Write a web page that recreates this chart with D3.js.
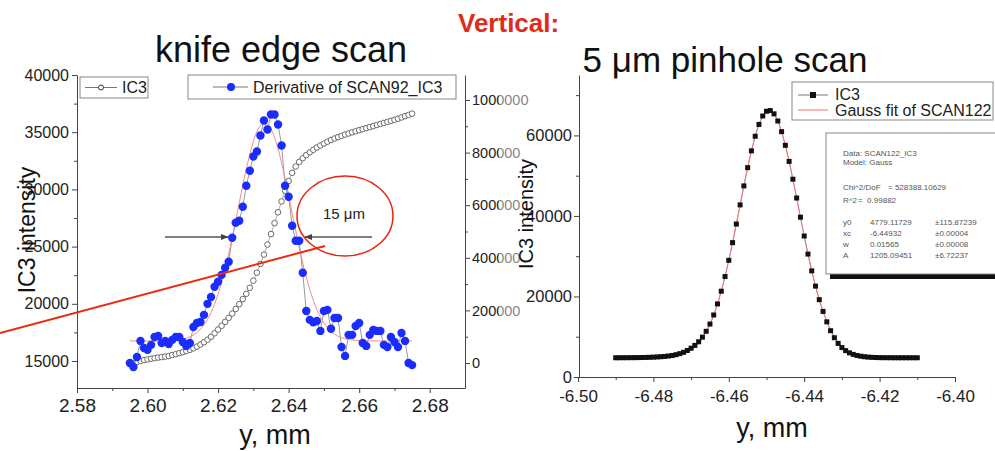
<!DOCTYPE html>
<html>
<head>
<meta charset="utf-8">
<script src="https://cdn.jsdelivr.net/npm/d3@7"></script>
<style>
  body { margin: 0; background: #fff; }
  svg { display: block; font-family: 'Liberation Sans', Arial, sans-serif; }
</style>
</head>
<body>
<svg id="chart" width="995" height="451"></svg>
<script>
/* global d3 */
// ---- knife edge scan (left panel) ----
const scanStart = 2.595
const scanStep = 0.001
const knifeIC3 = [14720, 14820, 14920, 15010, 15080, 15140, 15200, 15250, 15300, 15340,
  15380, 15440, 15520, 15600, 15690, 15780, 15870, 15980, 16110, 16260,
  16440, 16640, 16860, 17120, 17420, 17750, 18080, 18420, 18770, 19150,
  19550, 19970, 20410, 20870, 21400, 22020, 22720, 23480, 24300, 25180,
  26100, 27050, 28000, 28950, 29880, 30730, 31450, 32000, 32400, 32730,
  33000, 33240, 33460, 33660, 33840, 34010, 34170, 34320, 34450, 34570,
  34680, 34790, 34890, 34990, 35090, 35180, 35270, 35360, 35450, 35540,
  35630, 35720, 35810, 35900, 35990, 36080, 36180, 36290, 36400, 36510, 36620]
const knifeDeriv = [0, -15000, 23000, 84000, 57000, 50000, 69000, 99000, 103000, 76000,
  84000, 72000, 88000, 99000, 99000, 80000, 65000, 76000, 137000, 152000,
  156000, 183000, 225000, 251000, 290000, 309000, 335000, 362000, 385000, 476000,
  533000, 541000, 594000, 674000, 731000, 785000, 804000, 865000, 922000, 888000,
  945000, 945000, 907000, 827000, 674000, 632000, 522000, 465000, 465000, 343000,
  198000, 164000, 155000, 160000, 122000, 198000, 202000, 130000, 171000, 171000,
  61000, 27000, 107000, 107000, 141000, 152000, 76000, 65000, 107000, 126000,
  122000, 122000, 69000, 61000, 99000, 80000, 61000, 114000, 84000, 0, -8000]
const knifeFit = [84000, 84000, 84000, 84000, 84000, 84000, 84000, 84100, 84200, 84400,
  84700, 85200, 85900, 87000, 88700, 91100, 94600, 99600, 106500, 115900,
  128400, 144700, 165600, 191600, 223600, 261900, 306600, 357800, 414800, 476800,
  542200, 609000, 674800, 737600, 794100, 842200, 879200, 903500, 913700, 909300,
  890600, 858400, 814500, 761000, 700500, 635500, 568600, 502500, 439100, 380000,
  326400, 278900, 238000, 203700, 175300, 152500, 134400, 120400, 109900, 102100,
  96400, 92400, 89500, 87600, 86300, 85400, 84800, 84500, 84300, 84100,
  84000, 84000, 84000, 84000, 84000, 84000, 84000, 84000, 84000, 84000, 84000]
const knifeYTicks = [15000, 20000, 25000, 30000, 35000, 40000]
const knifeYMinor = [17500, 22500, 27500, 32500, 37500]
const knifeRTicks = [0, 200000, 400000, 600000, 800000, 1000000]
const knifeRMinor = [100000, 300000, 500000, 700000, 900000]
const knifeXTicks = [2.58, 2.60, 2.62, 2.64, 2.66, 2.68]
const knifeXMinor = [2.59, 2.61, 2.63, 2.65, 2.67]

// ---- 5 um pinhole scan (right panel) ----
const pinStart = -6.490
const pinStep = 0.001
const pinIC3 = [4780, 4780, 4790, 4790, 4800, 4810, 4820, 4840, 4860, 4890,
  4930, 4980, 5040, 5110, 5210, 5350, 5540, 5800, 6130, 6580,
  7150, 7850, 8750, 9900, 11350, 13150, 15400, 18150, 21300, 24950,
  28980, 33370, 37990, 42740, 47460, 51990, 56160, 59790, 62720, 64820,
  65990, 66170, 65350, 63580, 60930, 57540, 53540, 49120, 44450, 39690,
  35010, 30530, 26360, 22570, 19210, 16290, 13700, 11500, 9750, 8350,
  7300, 6550, 6000, 5620, 5350, 5160, 5030, 4940, 4880, 4840,
  4810, 4800, 4790, 4790, 4780, 4780, 4780, 4780, 4780, 4780, 4780]
const pinFit = [4779, 4779, 4779, 4779, 4779, 4779, 4779, 4784, 4789, 4796,
  4807, 4825, 4853, 4897, 4963, 5061, 5204, 5410, 5701, 6102,
  6649, 7379, 8337, 9562, 11113, 13030, 15353, 18112, 21306, 24950,
  28980, 33367, 37987, 42737, 47455, 51990, 56155, 59786, 62717, 64818,
  65986, 66167, 65352, 63577, 60929, 57537, 53544, 49120, 44445, 39689,
  35008, 30529, 26363, 22566, 19211, 16287, 13817, 11759, 10081, 8744,
  7693, 6889, 6280, 5830, 5503, 5270, 5106, 4994, 4918, 4867,
  4834, 4813, 4799, 4791, 4786, 4783, 4781, 4780, 4780, 4779, 4779]
const pinYTicks = [0, 20000, 40000, 60000]
const pinYMinor = [10000, 30000, 50000, 70000]
const pinXTicks = [-6.50, -6.48, -6.46, -6.44, -6.42, -6.40]
const pinXMinor = [-6.49, -6.47, -6.45, -6.43, -6.41]
const fitHeader = ['Data: SCAN122_IC3', 'Model: Gauss']
const fitStats = [['Chi^2/DoF', '= 528388.10629'], ['R^2', '=  0.99882']]
const fitParams = [['y0', '4779.11729', '±115.87239'], ['xc', '-6.44932', '±0.00004'],
  ['w', '0.01565', '±0.00008'], ['A', '1205.09451', '±6.72237']]

const font = 'Liberation Sans, Arial, sans-serif'
const svg = d3.select('#chart')

let axisG = function (axis, tx, ty, size) {
  let g = svg.append('g')
    .attr('transform', `translate(${tx},${ty})`)
    .call(axis)
    .attr('font-size', size)
    .attr('font-family', font)
  g.selectAll('line').attr('stroke', '#444')
  g.select('.domain').attr('stroke', '#444')
  g.selectAll('text').attr('fill', '#222')
  return g
}
let minorG = function (axis, tx, ty) {
  let g = svg.append('g')
    .attr('transform', `translate(${tx},${ty})`)
    .call(axis.tickFormat('').tickSizeOuter(0))
  g.select('.domain').remove()
  g.selectAll('line').attr('stroke', '#444')
}

svg.append('defs').append('marker')
  .attr('id', 'arrow')
  .attr('viewBox', '0 0 10 10')
  .attr('refX', 9).attr('refY', 5)
  .attr('markerWidth', 6).attr('markerHeight', 6)
  .attr('orient', 'auto-start-reverse')
  .append('path')
  .attr('d', 'M0,1L10,5L0,9z')
  .attr('fill', '#444')

svg.append('text')
  .attr('x', 458).attr('y', 32)
  .attr('font-size', 26).attr('font-weight', 'bold')
  .attr('fill', '#dd2c1a')
  .text('Vertical:')
svg.append('text')
  .attr('x', 468).attr('y', 471)
  .attr('font-size', 26).attr('font-weight', 'bold')
  .attr('fill', '#dd2c1a')
  .text('Horizontal:')

// ---------- left panel ----------
const kx = d3.scaleLinear().domain([2.58, 2.69]).range([77, 465])
const ky = d3.scaleLinear().domain([12640, 40000]).range([388, 75])
const kr = d3.scaleLinear().domain([-95000, 1095000]).range([388, 75])
const scanX = knifeIC3.map((d, i) => scanStart + i * scanStep)

svg.append('text')
  .attr('x', 281).attr('y', 62)
  .attr('text-anchor', 'middle')
  .attr('font-size', 36).attr('fill', '#111')
  .text('knife edge scan')

axisG(d3.axisLeft(ky).tickValues(knifeYTicks).tickSize(5).tickPadding(3).tickSizeOuter(0)
  .tickFormat(d => String(d)), 77, 0, 16)
minorG(d3.axisLeft(ky).tickValues(knifeYMinor).tickSize(3), 77, 0)
axisG(d3.axisRight(kr).tickValues(knifeRTicks).tickSize(5).tickPadding(2).tickSizeOuter(0)
  .tickFormat(d => String(d)), 465, 0, 14.5)
minorG(d3.axisRight(kr).tickValues(knifeRMinor).tickSize(3), 465, 0)
axisG(d3.axisBottom(kx).tickValues(knifeXTicks).tickSize(5).tickPadding(6).tickSizeOuter(0)
  .tickFormat(d => d.toFixed(2)), 0, 388, 19)
minorG(d3.axisBottom(kx).tickValues(knifeXMinor).tickSize(3), 0, 388)

svg.append('text')
  .attr('transform', 'translate(35,230) rotate(-90)')
  .attr('text-anchor', 'middle')
  .attr('font-size', 23).attr('fill', '#111')
  .text('IC3 intensity')
svg.append('text')
  .attr('x', 275).attr('y', 444)
  .attr('text-anchor', 'middle')
  .attr('font-size', 27).attr('fill', '#111')
  .text('y, mm')

const ic3Line = d3.line().x((d, i) => kx(scanX[i])).y(d => ky(d))
const rLine = d3.line().x((d, i) => kx(scanX[i])).y(d => kr(d))

svg.append('path').datum(knifeIC3)
  .attr('d', ic3Line)
  .attr('fill', 'none').attr('stroke', '#999').attr('stroke-width', 0.8)
svg.append('g').selectAll('circle')
  .data(knifeIC3)
  .enter().append('circle')
  .attr('cx', (d, i) => kx(scanX[i]))
  .attr('cy', d => ky(d))
  .attr('r', 2.8)
  .attr('fill', '#fff')
  .attr('stroke', '#6a6a6a')
  .attr('stroke-width', 1)

svg.append('path').datum(knifeDeriv)
  .attr('d', rLine)
  .attr('fill', 'none').attr('stroke', '#999').attr('stroke-width', 1)
svg.append('path').datum(knifeFit)
  .attr('d', rLine.curve(d3.curveMonotoneX))
  .attr('fill', 'none').attr('stroke', '#f28a8a').attr('stroke-width', 1)
svg.append('g').selectAll('circle')
  .data(knifeDeriv)
  .enter().append('circle')
  .attr('cx', (d, i) => kx(scanX[i]))
  .attr('cy', d => kr(d))
  .attr('r', 4.2)
  .attr('fill', '#1b2cff')

// legends
let kLeg1 = svg.append('g')
kLeg1.append('rect')
  .attr('x', 80).attr('y', 77).attr('width', 68).attr('height', 21)
  .attr('fill', '#fff').attr('stroke', '#888')
kLeg1.append('line')
  .attr('x1', 85).attr('x2', 117).attr('y1', 87.5).attr('y2', 87.5)
  .attr('stroke', '#777')
kLeg1.append('circle')
  .attr('cx', 101).attr('cy', 87.5).attr('r', 2.5)
  .attr('fill', '#fff').attr('stroke', '#333')
kLeg1.append('text')
  .attr('x', 122).attr('y', 93)
  .attr('font-size', 16).attr('fill', '#222')
  .text('IC3')

let kLeg2 = svg.append('g')
kLeg2.append('rect')
  .attr('x', 188).attr('y', 75).attr('width', 268).attr('height', 24)
  .attr('fill', '#fff').attr('stroke', '#888')
kLeg2.append('line')
  .attr('x1', 213).attr('x2', 248).attr('y1', 87).attr('y2', 87)
  .attr('stroke', '#777')
kLeg2.append('circle')
  .attr('cx', 231).attr('cy', 87).attr('r', 4)
  .attr('fill', '#1b2cff')
kLeg2.append('text')
  .attr('x', 253).attr('y', 93)
  .attr('font-size', 16).attr('fill', '#222')
  .text('Derivative of SCAN92_IC3')

// annotation
svg.append('line')
  .attr('x1', 165).attr('x2', 228).attr('y1', 237).attr('y2', 237)
  .attr('stroke', '#555').attr('stroke-width', 1.3)
  .attr('marker-end', 'url(#arrow)')
svg.append('line')
  .attr('x1', 372).attr('x2', 305).attr('y1', 237).attr('y2', 237)
  .attr('stroke', '#555').attr('stroke-width', 1.3)
  .attr('marker-end', 'url(#arrow)')
svg.append('ellipse')
  .attr('cx', 345).attr('cy', 216).attr('rx', 48).attr('ry', 40)
  .attr('fill', 'none').attr('stroke', '#e8250e').attr('stroke-width', 1.5)
svg.append('text')
  .attr('x', 344).attr('y', 219)
  .attr('text-anchor', 'middle')
  .attr('font-size', 15).attr('fill', '#222')
  .text('15 μm')
svg.append('line')
  .attr('x1', 0).attr('y1', 333).attr('x2', 325).attr('y2', 246)
  .attr('stroke', '#ee2a0e').attr('stroke-width', 2)

// faded overlap where the right panel sits
svg.append('rect')
  .attr('x', 499).attr('y', 85).attr('width', 80).attr('height', 290)
  .attr('fill', '#fff').attr('opacity', 0.45)

// ---------- right panel ----------
const px = d3.scaleLinear().domain([-6.50, -6.40]).range([578, 955])
const py = d3.scaleLinear().domain([0, 75000]).range([377, 75])
const pinX = pinIC3.map((d, i) => pinStart + i * pinStep)

svg.append('text')
  .attr('x', 725).attr('y', 72)
  .attr('text-anchor', 'middle')
  .attr('font-size', 35).attr('fill', '#111')
  .text('5 μm pinhole scan')

axisG(d3.axisLeft(py).tickValues(pinYTicks).tickSize(5).tickPadding(2).tickSizeOuter(0)
  .tickFormat(d => String(d)), 579, 0, 16.5)
minorG(d3.axisLeft(py).tickValues(pinYMinor).tickSize(3), 579, 0)
axisG(d3.axisBottom(px).tickValues(pinXTicks).tickSize(5).tickPadding(8).tickSizeOuter(0)
  .tickFormat(d => d.toFixed(2)), 0, 377, 17)
minorG(d3.axisBottom(px).tickValues(pinXMinor).tickSize(3), 0, 377)

svg.append('text')
  .attr('transform', 'translate(533,214) rotate(-90)')
  .attr('text-anchor', 'middle')
  .attr('font-size', 20).attr('fill', '#111')
  .text('IC3 intensity')
svg.append('text')
  .attr('x', 772).attr('y', 437)
  .attr('text-anchor', 'middle')
  .attr('font-size', 27).attr('fill', '#111')
  .text('y, mm')

const pinLine = d3.line().x((d, i) => px(pinX[i])).y(d => py(d))
svg.append('path').datum(pinIC3)
  .attr('d', pinLine)
  .attr('fill', 'none').attr('stroke', '#999').attr('stroke-width', 0.8)
svg.append('path').datum(pinFit)
  .attr('d', pinLine.curve(d3.curveMonotoneX))
  .attr('fill', 'none').attr('stroke', '#f07070').attr('stroke-width', 1)
svg.append('g').selectAll('rect')
  .data(pinIC3)
  .enter().append('rect')
  .attr('x', (d, i) => px(pinX[i]) - 2.5)
  .attr('y', d => py(d) - 2.5)
  .attr('width', 5).attr('height', 5)
  .attr('fill', '#111')

// legend
let pLeg = svg.append('g')
pLeg.append('rect')
  .attr('x', 792).attr('y', 82).attr('width', 201).attr('height', 38)
  .attr('fill', '#fff').attr('stroke', '#888')
pLeg.append('line')
  .attr('x1', 798).attr('x2', 828).attr('y1', 95).attr('y2', 95)
  .attr('stroke', '#777')
pLeg.append('rect')
  .attr('x', 810).attr('y', 92).attr('width', 6).attr('height', 6)
  .attr('fill', '#111')
pLeg.append('text')
  .attr('x', 835).attr('y', 100)
  .attr('font-size', 16).attr('fill', '#222')
  .text('IC3')
pLeg.append('line')
  .attr('x1', 798).attr('x2', 828).attr('y1', 110).attr('y2', 110)
  .attr('stroke', '#f07070')
pLeg.append('text')
  .attr('x', 835).attr('y', 115.5)
  .attr('font-size', 16).attr('fill', '#222')
  .text('Gauss fit of SCAN122')

// fit report box
let rep = svg.append('g')
rep.append('rect')
  .attr('x', 830).attr('y', 274).attr('width', 170).attr('height', 5)
  .attr('fill', '#111')
rep.append('rect')
  .attr('x', 826).attr('y', 133).attr('width', 180).attr('height', 141)
  .attr('fill', '#fff').attr('stroke', '#888')
rep.selectAll('.hdr')
  .data(fitHeader)
  .enter().append('text')
  .attr('x', 843).attr('y', (d, i) => 156 + i * 9)
  .attr('font-size', 8).attr('fill', '#555')
  .text(d => d)
rep.selectAll('.st')
  .data(fitStats)
  .enter().append('text')
  .attr('x', 843).attr('y', (d, i) => 190 + i * 13)
  .attr('font-size', 8).attr('fill', '#555')
  .text(d => d[0])
rep.selectAll('.stv')
  .data(fitStats)
  .enter().append('text')
  .attr('x', (d, i) => i === 0 ? 888 : 858).attr('y', (d, i) => 190 + i * 13)
  .attr('font-size', 8).attr('fill', '#555')
  .attr('xml:space', 'preserve')
  .text(d => d[1])
let prow = rep.selectAll('.prow')
  .data(fitParams)
  .enter().append('g')
  .attr('transform', (d, i) => `translate(0,${225 + i * 11})`)
prow.append('text').attr('x', 843).attr('font-size', 8).attr('fill', '#555').text(d => d[0])
prow.append('text').attr('x', 870).attr('font-size', 8).attr('fill', '#555').text(d => d[1])
prow.append('text').attr('x', 935).attr('font-size', 8).attr('fill', '#555').text(d => d[2])
</script>
</body>
</html>
